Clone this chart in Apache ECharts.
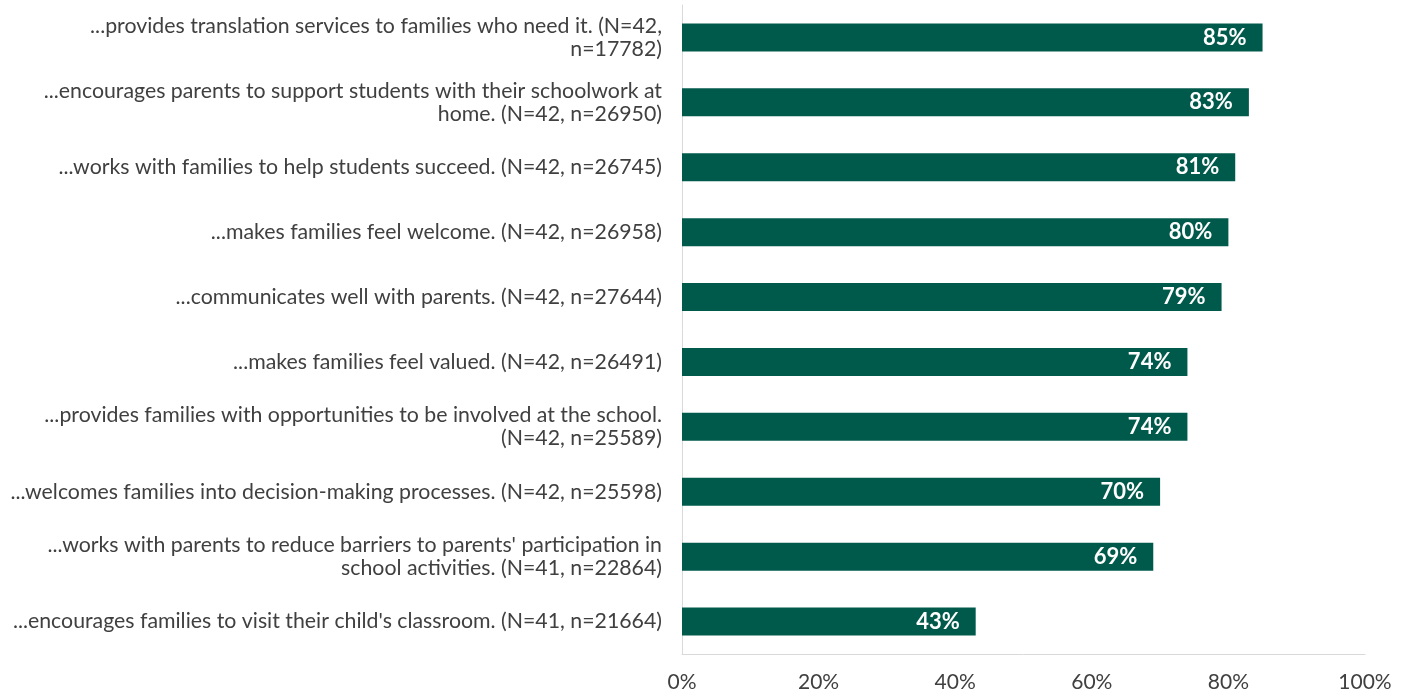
<!DOCTYPE html>
<html>
<head>
<meta charset="utf-8">
<script src="https://cdn.jsdelivr.net/npm/echarts@6/dist/echarts.min.js"></script>
<style>
  html, body { margin: 0; padding: 0; background: #fff; }
  #chart { width: 1408px; height: 696px; }
</style>
</head>
<body>
<div id="chart"></div>
<script>
// Survey statements, top to bottom
const statements = [
  "...provides translation services to families who need it. (N=42,\nn=17782)",
  "...encourages parents to support students with their schoolwork at\nhome. (N=42, n=26950)",
  "...works with families to help students succeed. (N=42, n=26745)",
  "...makes families feel welcome. (N=42, n=26958)",
  "...communicates well with parents. (N=42, n=27644)",
  "...makes families feel valued. (N=42, n=26491)",
  "...provides families with opportunities to be involved at the school.\n(N=42, n=25589)",
  "...welcomes families into decision-making processes. (N=42, n=25598)",
  "...works with parents to reduce barriers to parents' participation in\nschool activities. (N=41, n=22864)",
  "...encourages families to visit their child's classroom. (N=41, n=21664)"
];
// Percent agreeing, same order
const agreePct = [85, 83, 81, 80, 79, 74, 74, 70, 69, 43];
// X axis range and step (percent)
const xMin = 0, xMax = 100, xStep = 20;

const chart = echarts.init(document.getElementById('chart'));
chart.setOption({
  animation: false,
  textStyle: { fontFamily: 'Lato' },
  grid: { left: 682, right: 43, top: 5, bottom: 42, containLabel: false },
  xAxis: {
    type: 'value',
    min: xMin, max: xMax, interval: xStep,
    axisLine: { show: true, lineStyle: { color: '#d9d9d9', width: 1 } },
    axisTick: { show: false },
    splitLine: { show: false },
    axisLabel: {
      formatter: v => v + '%',
      color: '#404040', fontSize: 21, fontFamily: 'Lato', margin: 18
    }
  },
  yAxis: {
    type: 'category',
    inverse: true,
    data: statements,
    axisLine: { show: true, lineStyle: { color: '#d9d9d9', width: 1 } },
    axisTick: { show: false },
    axisLabel: {
      color: '#404040', fontSize: 21.3, fontFamily: 'Lato',
      lineHeight: 23, margin: 20, align: 'right'
    }
  },
  series: [{
    type: 'bar',
    data: agreePct,
    barWidth: 28,
    itemStyle: { color: '#005a4b' },
    label: {
      show: true,
      position: 'insideRight',
      distance: 16,
      formatter: p => p.value + '%',
      color: '#ffffff', fontWeight: 'bold', fontSize: 22, fontFamily: 'Lato'
    }
  }]
});
</script>
</body>
</html>
